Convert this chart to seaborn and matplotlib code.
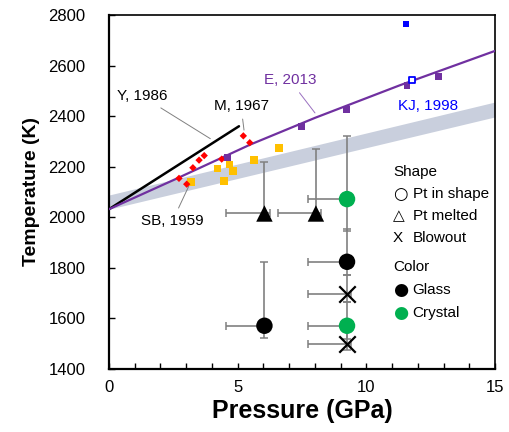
import matplotlib
matplotlib.use("Agg")
import matplotlib.pyplot as plt
from matplotlib.ticker import MultipleLocator
import seaborn as sns
import pandas as pd

sns.set_style("white")
plt.rcParams["font.family"] = ["Liberation Sans", "DejaVu Sans"]
plt.rcParams["text.color"] = "black"
plt.rcParams["axes.labelcolor"] = "black"
plt.rcParams["xtick.color"] = "black"
plt.rcParams["ytick.color"] = "black"

# ---------------- data ----------------
# gray band (melting curve envelope)
band_p = [0, 15]
band_lo = [2032, 2397]
band_hi = [2088, 2456]

# Y, 1986 line
y86_p = [0, 5.05]
y86_t = [2032, 2360]

# E, 2013 curve
e13_curve_p = [0, 2.5, 5.5, 8.0, 11.3, 15]
e13_curve_t = [2032, 2147, 2288, 2393, 2522, 2658]

# M, 1967 (red diamonds)
m67_p = [2.72, 3.02, 3.26, 3.50, 3.70, 4.38, 5.22, 5.47]
m67_t = [2154, 2131, 2196, 2226, 2244, 2230, 2322, 2295]

# SB, 1959 (orange squares)
sb59_p = [3.19, 4.21, 4.69, 4.82, 4.47, 5.64, 6.61]
sb59_t = [2139, 2193, 2209, 2184, 2143, 2226, 2275]

# E, 2013 (purple squares)
e13_p = [4.61, 7.49, 9.24, 11.58, 12.81]
e13_t = [2237, 2360, 2427, 2520, 2556]

# KJ, 1998 (blue squares)
kj_fill_p = [11.55]
kj_fill_t = [2764]
kj_open_p = [11.78]
kj_open_t = [2542]

# experiments
exp_p = [6.04, 8.04, 6.04, 9.25, 9.25, 9.25, 9.25, 9.25]
exp_t = [2015, 2015, 1571, 2072, 1824, 1695, 1571, 1499]
exp_color = ["Glass", "Glass", "Glass", "Crystal", "Glass", "Glass", "Crystal", "Glass"]
exp_shape = ["melted", "melted", "shape", "shape", "shape", "blowout", "shape", "blowout"]
exp_xerr_lo = [1.49, 1.48, 1.49, 1.50, 1.50, 1.50, 1.50, 1.50]
exp_xerr_hi = [0.20, 0.20, 0.10, 0.00, 0.00, 0.15, 0.00, 0.15]
exp_yerr_lo = [15, 15, 50, 127, 52, 29, 51, 24]
exp_yerr_hi = [204, 257, 253, 249, 130, 77, 95, 72]

xticks = [0, 5, 10, 15]
yticks = [1400, 1600, 1800, 2000, 2200, 2400, 2600, 2800]

# ---------------- figure ----------------
fig = plt.figure(figsize=(5.1, 4.32), dpi=100)
ax = fig.add_axes([109 / 510, 1 - 369 / 432, (495 - 109) / 510, (369 - 15) / 432])

ax.fill_between(band_p, band_lo, band_hi, color="#c9cfdd", lw=0, zorder=1)

sns.lineplot(x=y86_p, y=y86_t, color="black", lw=1.8, ax=ax, sort=False, estimator=None, zorder=3)
sns.lineplot(x=e13_curve_p, y=e13_curve_t, color="#7030a0", lw=1.6, ax=ax, sort=False, estimator=None, zorder=3)

sns.scatterplot(x=sb59_p, y=sb59_t, marker="s", color="#ffc000", s=30, edgecolor="none", ax=ax, zorder=4)
sns.scatterplot(x=m67_p, y=m67_t, marker="D", color="#ff0000", s=14, edgecolor="none", ax=ax, zorder=5)
sns.scatterplot(x=e13_p, y=e13_t, marker="s", color="#7030a0", s=24, edgecolor="none", ax=ax, zorder=5)
sns.scatterplot(x=kj_fill_p, y=kj_fill_t, marker="s", color="#0000ff", s=22, edgecolor="none", ax=ax, zorder=5)
ax.scatter(kj_open_p, kj_open_t, marker="s", s=22, facecolor="white", edgecolor="#0000ff", linewidths=1.3, zorder=6)

df = pd.DataFrame({"P": exp_p, "T": exp_t, "color": exp_color, "shape": exp_shape})
ax.errorbar(exp_p, exp_t,
            xerr=[exp_xerr_lo, exp_xerr_hi], yerr=[exp_yerr_lo, exp_yerr_hi],
            fmt="none", ecolor="#808080", elinewidth=1.2, capsize=3, capthick=1.1, zorder=2)

filled = df[df["shape"] != "blowout"]
sns.scatterplot(data=filled, x="P", y="T", hue="color", style="shape",
                palette={"Glass": "black", "Crystal": "#00b050"},
                markers={"shape": "o", "melted": "^"}, s=140, edgecolor="none",
                legend=False, ax=ax, zorder=7)
blow = df[df["shape"] == "blowout"]
ax.scatter(blow["P"], blow["T"], marker="x", s=140, color="black", linewidths=1.6, zorder=7)

# annotations
arr = dict(arrowstyle="-", color="#808080", lw=0.7)
ax.annotate("Y, 1986", xy=(4.03, 2305), xytext=(1.28, 2479), fontsize=11,
            ha="center", va="center", arrowprops=arr)
ax.annotate("M, 1967", xy=(5.26, 2334), xytext=(5.13, 2440), fontsize=11,
            ha="center", va="center", arrowprops=arr)
ax.annotate("SB, 1959", xy=(3.15, 2134), xytext=(2.47, 1986), fontsize=11,
            ha="center", va="center", arrowprops=arr)
ax.annotate("E, 2013", xy=(8.07, 2404), xytext=(7.03, 2542), fontsize=11,
            ha="center", va="center", color="#7030a0",
            arrowprops=dict(arrowstyle="-", color="#9a70c0", lw=0.7))
ax.text(12.4, 2440, "KJ, 1998", fontsize=11, ha="center", va="center", color="#0000ff")

# legend-like texts
lx = 11.04
gx = 11.05
tx = 11.8
ax.text(lx, 2179, "Shape", fontsize=11, va="center")
ax.text(gx, 2092, "\u25cb", fontsize=12, va="center", family=["DejaVu Sans"])
ax.text(tx, 2092, "Pt in shape", fontsize=11, va="center")
ax.text(gx, 2005, "\u25b3", fontsize=11, va="center", family=["DejaVu Sans"])
ax.text(tx, 2005, "Pt melted", fontsize=11, va="center")
ax.text(lx, 1918, "X", fontsize=11, va="center")
ax.text(tx, 1918, "Blowout", fontsize=11, va="center")
ax.text(lx, 1803, "Color", fontsize=11, va="center")
ax.text(gx, 1712, "\u25cf", fontsize=12.5, va="center", color="black", family=["DejaVu Sans"])
ax.text(tx, 1712, "Glass", fontsize=11, va="center")
ax.text(gx, 1621, "\u25cf", fontsize=12.5, va="center", color="#00b050", family=["DejaVu Sans"])
ax.text(tx, 1621, "Crystal", fontsize=11, va="center")

# axes
ax.set_xlim(0, 15)
ax.set_ylim(1400, 2800)
ax.set_xticks(xticks)
ax.set_yticks(yticks)
ax.xaxis.set_minor_locator(MultipleLocator(1))
ax.tick_params(which="both", direction="in", length=4, width=1, labelsize=12,
               top=False, right=False, bottom=True, left=True, color="black")
ax.tick_params(axis="x", pad=8)
ax.tick_params(axis="y", pad=17)
ax.set_xlabel("Pressure (GPa)", fontsize=18, fontweight="bold", labelpad=3)
ax.set_ylabel("Temperature (K)", fontsize=14, fontweight="bold", labelpad=6)
for side in ["left", "bottom"]:
    ax.spines[side].set_linewidth(1.6)
for side in ["top", "right"]:
    ax.spines[side].set_linewidth(1.2)
for sp in ax.spines.values():
    sp.set_color("black")
    sp.set_visible(True)

fig.savefig("out.png", dpi=100)
